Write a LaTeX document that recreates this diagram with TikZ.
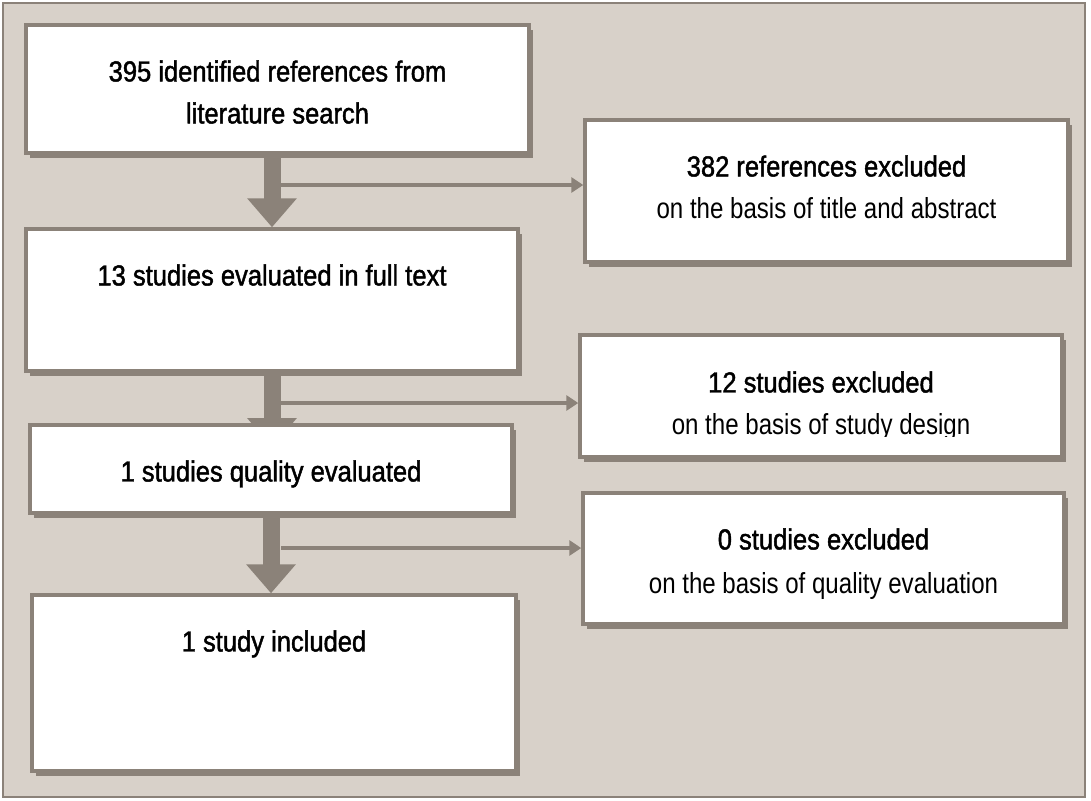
\documentclass[tikz,border=0pt]{standalone}
\usepackage{fontspec}
\newfontfamily\headfont[FakeStretch=0.88,FakeBold=1.5]{Liberation Sans}
\newfontfamily\basefont[FakeStretch=0.83]{Liberation Sans}
\usetikzlibrary{arrows.meta, shadows}
\definecolor{paper}{RGB}{216,209,201}
\definecolor{edge}{RGB}{139,130,121}
\pgfdeclarelayer{back}
\pgfdeclarelayer{flow}
\pgfsetlayers{back,flow,main}

\begin{document}
\begin{tikzpicture}[x=1pt, y=-1pt,
    box/.style = {draw=edge, line width=3.5pt, fill=white, inner sep=0pt,
        drop shadow={shadow xshift=4pt, shadow yshift=-5pt, fill=edge, opacity=1}},
    txt/.style = {anchor=north, align=center, inner sep=0pt, font=\fontsize{29}{42}\headfont},
    down/.style = {edge, line width=17pt, -{Triangle[width=48pt, length=29pt]}},
    side/.style = {edge, line width=3.5pt, -{Triangle[width=15pt, length=12pt]}}]

\useasboundingbox (0, 0) rectangle (1091, 800);
\begin{pgfonlayer}{back}
\draw[edge, line width=1.5pt, fill=paper] (3, 3) rectangle (1085, 797);
\end{pgfonlayer}

% left column
\node[box, minimum width=503pt, minimum height=128pt] at (277.5, 89) (search) {};
\node[box, minimum width=492pt, minimum height=142pt] at (272, 300) (fulltext) {};
\node[box, minimum width=482pt, minimum height=88pt] at (271, 469) (quality) {};
\node[box, minimum width=484pt, minimum height=176pt] at (274, 683) (included) {};

% right column
\node[box, minimum width=483pt, minimum height=142pt] at (826.5, 191) (excl382) {};
\node[box, minimum width=482pt, minimum height=122pt] at (821, 396) (excl12) {};
\node[box, minimum width=481pt, minimum height=131pt] at (823.5, 558.5) (excl0) {};

\node[txt] at ([yshift=-37pt]search.north) (search-t) {395 identified references from\\literature search};
\node[txt] at ([yshift=-37pt]fulltext.north) (fulltext-t) {13 studies evaluated in full text};
\node[txt] at ([yshift=-37pt]quality.north) (quality-t) {1 studies quality evaluated};
\node[txt] at ([yshift=-37pt]included.north) (included-t) {1 study included};

\node[txt] at ([yshift=-37pt]excl382.north) (excl382-t) {382 references excluded\\\basefont on the basis of title and abstract};
\begin{scope}
\clip (excl12.north west) rectangle ([yshift=22pt]excl12.south east);
\node[txt] at ([yshift=-38pt]excl12.north) (excl12-t) {12 studies excluded\\\basefont on the basis of study design};
\end{scope}
\node[txt] at ([yshift=-37pt]excl0.north) (excl0-t) {0 studies excluded\\[2pt]\basefont on the basis of quality evaluation};

% arrows
\coordinate (b1) at (280, 185);
\coordinate (b2) at (281, 403);
\coordinate (b3) at (281, 548);
\coordinate (hidden) at (272, 447);

\begin{pgfonlayer}{flow}
\draw[down] (search.south -| fulltext.north) -- (fulltext.north);
\draw[down] (fulltext.south) -- (hidden);
\draw[down] (quality.south) -- (quality.south |- included.north);
\draw[side] (b1) -- (b1 -| excl382.west);
\draw[side] (b2) -- (b2 -| excl12.west);
\draw[side] (b3) -- (b3 -| excl0.west);
\end{pgfonlayer}
\end{tikzpicture}
\end{document}
